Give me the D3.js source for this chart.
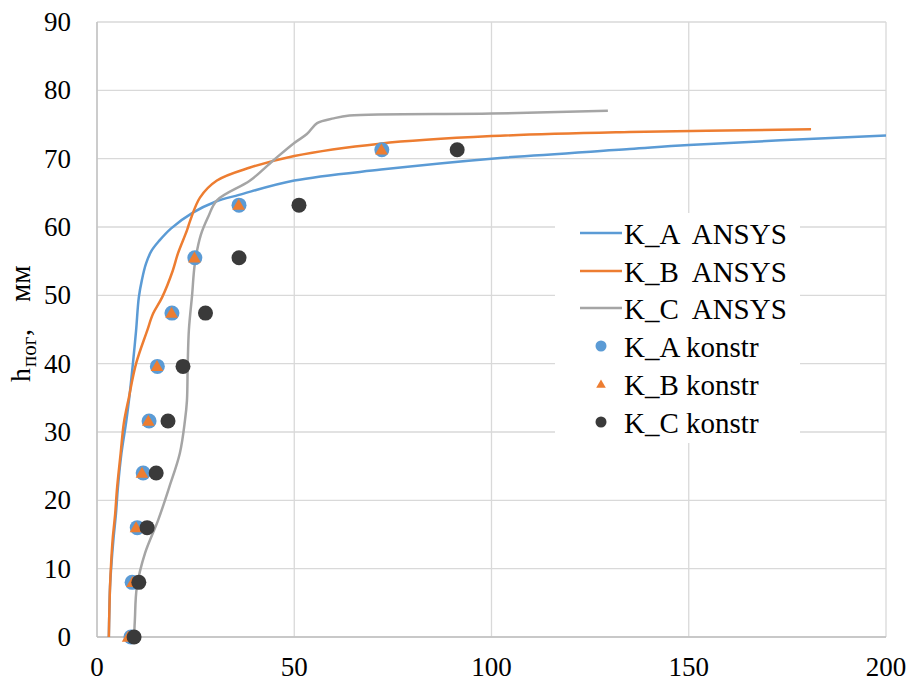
<!DOCTYPE html>
<html>
<head>
<meta charset="utf-8">
<script type="text/javascript" src="https://d3js.org/d3.v7.min.js"></script>
<title>h vs K</title>
<style>
  body { margin: 0; background: #fff; }
</style>
</head>
<body>
<div id="chart"></div>

<script type="text/javascript">
// ANSYS curves, [x, h]
var kA_ansys = [[3.0,0],[3.1,3],[3.3,7.3],[3.7,11],[4.2,14.5],[4.8,18],[5.3,21.9],[6.2,26.9],[7.4,31.5],[8.2,35.1],[9.1,40],[9.9,44.8],
  [10.6,49.7],[11.4,52.3],[12.4,54.6],[13.8,56.5],[15.8,58],[18.8,59.8],[24.3,62.1],[30,63.7],[36,64.7],[50,66.8],
  [72,68.4],[100,70.0],[135,71.4],[150,72.0],[200,73.4]];
var kB_ansys = [[3.0,0],[3.1,3],[3.3,7.3],[3.6,11],[4.0,14.5],[4.6,18],[5.1,21.9],[6.0,26.9],[6.8,31.3],[8.1,35.1],[9.9,40],
  [12.7,44.8],[14.2,47.3],[16.5,49.7],[19.2,53.6],[20.5,56.1],[22.8,59.5],[23.6,60.9],[26.1,64.3],[30.4,66.8],
  [38.8,68.7],[50,70.4],[71.7,72.2],[100,73.3],[135,73.9],[181,74.3]];
var kC_ansys = [[9.4,0],[9.6,2.5],[10.1,7.3],[12.2,12.3],[15.5,17.1],[18.3,21.9],[21,26.9],[22.3,31.7],[22.8,34.6],[23,40],
  [23.3,45],[24.1,50],[24.8,54.6],[26.3,58.8],[28.2,61.5],[30.4,63.9],[38.8,66.8],[44.6,69.7],[50,72.3],[53.2,73.6],
  [55.8,75.2],[60,75.9],[64,76.3],[100,76.6],[129.5,77.0]];

// construction method points
var hKonstr = [0, 8, 16, 24, 31.6, 39.6, 47.4, 55.5, 63.2, 71.3];
var kA_konstr = [8.6, 8.9, 10.2, 11.7, 13.2, 15.3, 19.0, 24.8, 36.0, 72.2];
var kB_konstr = [7.9, 9.0, 9.9, 11.4, 13.0, 15.2, 18.9, 24.7, 35.9, 72.1];
var kC_konstr = [9.4, 10.6, 12.7, 15.0, 18.0, 21.8, 27.5, 36.0, 51.2, 91.3];

var xTicks = [0, 50, 100, 150, 200];
var yTicks = [0, 10, 20, 30, 40, 50, 60, 70, 80, 90];
var legendNames = ["K_A  ANSYS", "K_B  ANSYS", "K_C  ANSYS", "K_A konstr", "K_B konstr", "K_C konstr"];

(function(){

var W = 909, H = 687;
var pL = 97, pR = 886, pT = 22, pB = 637;

var blue = "#5B9BD5", orange = "#ED7D31", gray = "#A5A5A5", dark = "#3A3A3A";

var x = d3.scaleLinear().domain([0, 200]).range([pL, pR]);
var y = d3.scaleLinear().domain([0, 90]).range([pB, pT]);

var svg = d3.select("#chart").append("svg")
  .attr("width", W).attr("height", H)
  .attr("font-family", "'Liberation Serif', 'Times New Roman', serif");

// grid
svg.append("g").selectAll("line").data(yTicks).enter().append("line")
  .attr("x1", pL).attr("x2", pR)
  .attr("y1", function(d){ return y(d); }).attr("y2", function(d){ return y(d); })
  .attr("stroke", "#D9D9D9").attr("stroke-width", 1.3);
svg.append("g").selectAll("line").data(xTicks).enter().append("line")
  .attr("x1", function(d){ return x(d); }).attr("x2", function(d){ return x(d); })
  .attr("y1", pT).attr("y2", pB)
  .attr("stroke", "#D9D9D9").attr("stroke-width", 1.3);
// axis lines
svg.append("line").attr("x1", pL).attr("x2", pR).attr("y1", pB).attr("y2", pB)
  .attr("stroke", "#BFBFBF").attr("stroke-width", 1.3);
svg.append("line").attr("x1", pL).attr("x2", pL).attr("y1", pT).attr("y2", pB)
  .attr("stroke", "#BFBFBF").attr("stroke-width", 1.3);

// tick labels
svg.append("g").selectAll("text").data(yTicks).enter().append("text")
  .attr("x", 71).attr("y", function(d){ return y(d) + 9; })
  .attr("text-anchor", "end").attr("font-size", 27)
  .text(function(d){ return d; });
svg.append("g").selectAll("text").data(xTicks).enter().append("text")
  .attr("x", function(d){ return x(d); }).attr("y", 676)
  .attr("text-anchor", "middle").attr("font-size", 27)
  .text(function(d){ return d; });

// y axis title (rotated frame: x' = -screen y)
var yt = svg.append("text")
  .attr("transform", "translate(30,0) rotate(-90)")
  .attr("font-size", 28);
yt.append("tspan").attr("x", -382).attr("y", 0).text("h");
yt.append("tspan").attr("x", -367).attr("y", 6).attr("font-size", 21).text("пог");
yt.append("tspan").attr("x", -336).attr("y", 0).text(",");
yt.append("tspan").attr("x", -302).attr("y", 0).attr("font-size", 29).text("мм");

// lines
var line = d3.line()
  .x(function(d){ return x(d[0]); })
  .y(function(d){ return y(d[1]); })
  .curve(d3.curveCatmullRom.alpha(0.5));

[[kA_ansys, blue], [kB_ansys, orange], [kC_ansys, gray]].forEach(function(s){
  svg.append("path").datum(s[0])
    .attr("d", line)
    .attr("fill", "none").attr("stroke", s[1]).attr("stroke-width", 2.5)
    .attr("stroke-linejoin", "round");
});

// markers
svg.append("g").selectAll("circle").data(kA_konstr).enter().append("circle")
  .attr("cx", function(d){ return x(d); })
  .attr("cy", function(d, i){ return y(hKonstr[i]); })
  .attr("r", 7.5).attr("fill", blue);

var tri = d3.symbol().type(d3.symbolTriangle).size(70);
svg.append("g").selectAll("path").data(kB_konstr).enter().append("path")
  .attr("transform", function(d, i){ return "translate(" + x(d) + "," + (y(hKonstr[i]) + 1) + ")"; })
  .attr("d", tri).attr("fill", orange);

svg.append("g").selectAll("circle").data(kC_konstr).enter().append("circle")
  .attr("cx", function(d){ return x(d); })
  .attr("cy", function(d, i){ return y(hKonstr[i]); })
  .attr("r", 7.5).attr("fill", dark);

// legend
var lg = svg.append("g");
lg.append("rect").attr("x", 555).attr("y", 213).attr("width", 245).attr("height", 230).attr("fill", "#fff");
var lgY = [233, 271, 308, 346, 384, 422];
var lgColors = [blue, orange, gray, blue, orange, dark];

lg.selectAll("text").data(legendNames).enter().append("text")
  .attr("x", 624).attr("y", function(d, i){ return lgY[i] + 11; })
  .attr("font-size", 29).style("white-space", "pre")
  .text(function(d){ return d; });

for (var i = 0; i < 3; i++) {
  lg.append("line").attr("x1", 580).attr("x2", 622)
    .attr("y1", lgY[i]).attr("y2", lgY[i])
    .attr("stroke", lgColors[i]).attr("stroke-width", 2.5);
}
lg.append("circle").attr("cx", 601).attr("cy", lgY[3]).attr("r", 5.5).attr("fill", blue);
lg.append("path").attr("transform", "translate(601," + (lgY[4] + 1) + ")")
  .attr("d", d3.symbol().type(d3.symbolTriangle).size(40)).attr("fill", orange);
lg.append("circle").attr("cx", 601).attr("cy", lgY[5]).attr("r", 5.5).attr("fill", dark);

})();
</script>
</body>
</html>
